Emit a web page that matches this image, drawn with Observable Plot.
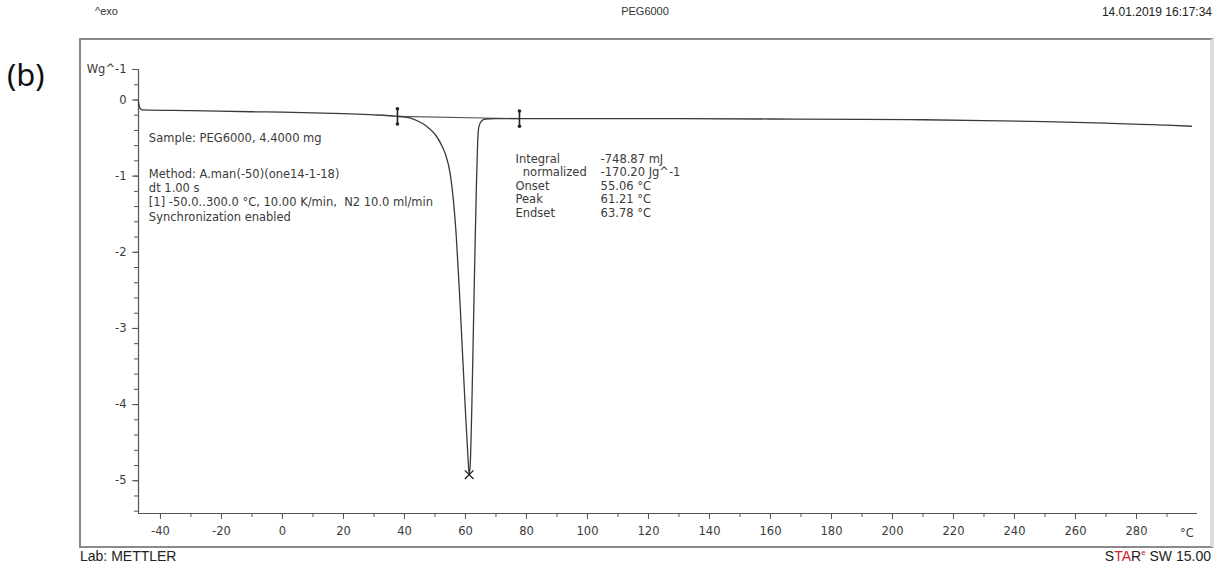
<!DOCTYPE html>
<html>
<head>
<meta charset="utf-8">
<script src="https://cdn.jsdelivr.net/npm/d3@7"></script>
<script src="https://cdn.jsdelivr.net/npm/@observablehq/plot@0.6"></script>
<style>
  html, body { margin: 0; padding: 0; background: #fff; }
  #wrap { position: relative; width: 1222px; height: 566px; overflow: hidden; font-family: "Liberation Sans", Arial, sans-serif; color: #222; }
  #wrap svg { position: absolute; left: 0; top: 0; background: transparent; }
  .abs { position: absolute; white-space: nowrap; }
  #frame { position: absolute; left: 79px; top: 38px; width: 1129px; height: 506px; border-top: 2px solid #8a8a8a; border-left: 2px solid #8a8a8a; border-bottom: 2px solid #8a8a8a; border-right: 4px solid #dcdcdc; box-sizing: content-box; pointer-events: none; }
</style>
</head>
<body>
<div id="wrap">
  <div id="frame"></div>
</div>
<script>
// ---- data ----
const temperature = [-47.2, -46.8, -46.0, -30, -10, 0, 20, 30, 37.7, 40, 42, 44, 46, 48, 50, 52, 53.5, 55, 56, 57, 58, 59, 60, 60.7, 61.21, 61.6, 62.1, 62.6, 63.1, 63.6, 64.0, 64.4, 65.2, 66.5, 70, 80, 100, 130, 160, 190, 210, 230, 250, 270, 290, 298];
const heatFlow    = [-0.02, -0.10, -0.13, -0.14, -0.155, -0.16, -0.18, -0.195, -0.215, -0.225, -0.24, -0.27, -0.31, -0.37, -0.45, -0.58, -0.72, -0.97, -1.3, -1.8, -2.5, -3.3, -4.1, -4.6, -4.92, -4.75, -4.0, -3.0, -2.0, -1.1, -0.55, -0.35, -0.28, -0.25, -0.245, -0.245, -0.245, -0.245, -0.25, -0.255, -0.26, -0.27, -0.285, -0.305, -0.33, -0.345];
const xMajorTicks = [-40, -20, 0, 20, 40, 60, 80, 100, 120, 140, 160, 180, 200, 220, 240, 260, 280];
const xMinorTicks = d3.range(-40, 300, 10);
const yMajorTicks = [0, -1, -2, -3, -4, -5];
const yMinorTicks = d3.range(-5.4, 0.41, 0.2).map(v => Math.round(v * 10) / 10);
const yUnitTick = 0.4;
const integrationLimits = [37.7, 77.7];
const integrationBaseline = [-0.215, -0.245];
const peakTemp = 61.21;
const peakValue = -4.92;
const sampleLines = ["Method: A.man(-50)(one14-1-18)", "dt 1.00 s", "[1] -50.0..300.0 °C, 10.00 K/min,  N2 10.0 ml/min", "Synchronization enabled"];
const resultLabels = ["Integral", "  normalized", "Onset", "Peak", "Endset"];
const resultValues = ["-748.87 mJ", "-170.20 Jg^-1", "55.06 °C", "61.21 °C", "63.78 °C"];

const curve = temperature.map((t, i) => ({t, v: heatFlow[i]}));
const xDomain = [-47.2, 300];
const yDomain = [-5.43, 0.40];
const txt = "#3a3a3a";

const plot = Plot.plot({
  width: 1222,
  height: 566,
  marginLeft: 138,
  marginRight: 25,
  marginTop: 69,
  marginBottom: 53,
  style: {fontFamily: "DejaVu Sans, Verdana, sans-serif", fontSize: "11.5px", background: "transparent", color: txt},
  x: {domain: xDomain},
  y: {domain: yDomain},
  marks: [
    Plot.ruleX([xDomain[0]], {stroke: "#555", strokeWidth: 1.2}),
    Plot.ruleY([yDomain[0]], {stroke: "#555", strokeWidth: 1.2}),
    Plot.axisX(xMinorTicks, {tickSize: 4, text: null, stroke: "#555", label: null}),
    Plot.axisX(xMajorTicks, {tickSize: 6, tickPadding: 7, tickFormat: d => String(d), stroke: "#555", fill: txt, label: null}),
    Plot.axisY(yMinorTicks, {tickSize: 4, text: null, stroke: "#555", label: null}),
    Plot.axisY([...yMajorTicks, yUnitTick], {tickSize: 6, tickPadding: 6, tickFormat: d => d === yUnitTick ? "Wg^-1" : String(d), stroke: "#555", fill: txt, label: null}),
    Plot.text(["°C"], {x: 296.5, y: yDomain[0], dy: 20, fill: txt}),
    // integration baseline
    Plot.line(integrationLimits.map((t, i) => ({t, v: integrationBaseline[i]})), {x: "t", y: "v", stroke: "#555", strokeWidth: 1.1}),
    // curve
    Plot.line(curve, {x: "t", y: "v", stroke: "#3a3a3a", strokeWidth: 1.3, curve: "monotone-x"}),
    // limit markers
    Plot.ruleX(integrationLimits, {y1: (d, i) => integrationBaseline[i] + 0.1, y2: (d, i) => integrationBaseline[i] - 0.1, stroke: "#222", strokeWidth: 1.6}),
    Plot.dot(integrationLimits.flatMap((t, i) => [{t, v: integrationBaseline[i] + 0.1}, {t, v: integrationBaseline[i] - 0.1}]), {x: "t", y: "v", r: 1.8, fill: "#222"}),
    // peak marker
    Plot.dot([{t: peakTemp, v: peakValue}], {x: "t", y: "v", symbol: "times", r: 4, stroke: "#222", strokeWidth: 1.3}),
    // annotations
    Plot.text(["Sample: PEG6000, 4.4000 mg"], {x: -43.8, y: -0.51, textAnchor: "start", fill: txt, fontSize: 11.5}),
    Plot.text(sampleLines, {x: -43.8, y: (d, i) => -0.97 - i * 0.19, textAnchor: "start", fill: txt, fontSize: 11.5}),
    Plot.text(resultLabels, {x: 76.4, y: (d, i) => -0.773 - i * 0.178, textAnchor: "start", fill: txt, fontSize: 11.5}),
    Plot.text(resultValues, {x: 104.3, y: (d, i) => -0.773 - i * 0.178, textAnchor: "start", fill: txt, fontSize: 11.5})
  ]
});

const wrap = document.getElementById("wrap");
wrap.insertBefore(plot, wrap.firstChild);

function addText(html, style) {
  const d = document.createElement("div");
  d.className = "abs";
  d.innerHTML = html;
  Object.assign(d.style, style);
  wrap.appendChild(d);
}
addText("(b)", {left: "7px", top: "53px", fontSize: "31px", fontFamily: "Noto Sans, sans-serif", color: "#111"});
addText("^exo", {left: "95px", top: "5px", fontSize: "11px", color: "#333"});
addText("PEG6000", {left: "645px", top: "5px", fontSize: "11px", color: "#333", transform: "translateX(-50%)"});
addText("14.01.2019 16:17:34", {right: "10px", top: "5px", fontSize: "12px", color: "#222"});
addText("Lab: METTLER", {left: "80px", top: "548px", fontSize: "14px", color: "#222"});
addText('S<span style="color:#d0202a">TA</span>R<sup style="color:#d0202a;font-size:8px">e</sup> SW 15.00', {right: "11px", top: "548px", fontSize: "14px", color: "#222"});
</script>
</body>
</html>
